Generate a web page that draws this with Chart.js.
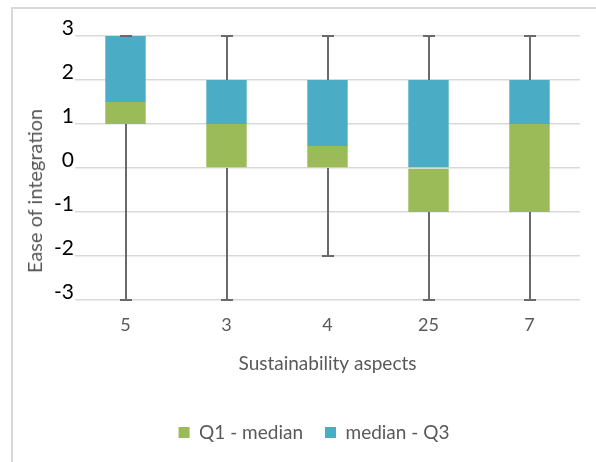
<!DOCTYPE html>
<html>
<head>
<meta charset="utf-8">
<script src="https://cdn.jsdelivr.net/npm/chart.js@4.4.1/dist/chart.umd.min.js"></script>
<style>
  html, body { margin: 0; padding: 0; background: #ffffff; }
  #wrap { position: relative; width: 596px; height: 462px; overflow: hidden; }
  #frame { position: absolute; left: 11px; top: 7px; width: 700px; height: 600px;
           border-left: 2px solid #d9d9d9; border-top: 2px solid #d9d9d9; box-sizing: border-box; }
  #ytitle { position: absolute; left: 34px; top: 191px; transform: translate(-50%, -50%) rotate(-90deg);
            font-family: Lato, sans-serif; font-size: 20px; color: #595959; white-space: nowrap; }
  canvas { position: absolute; left: 0; top: 0; }
</style>
</head>
<body>
<div id="wrap">
  <div id="frame"></div>
  <canvas id="c" width="596" height="462"></canvas>
  <div id="ytitle">Ease of integration</div>
</div>
<script>
// Sustainability aspect groups and their box-plot statistics
const categories = ['5', '3', '4', '25', '7'];
const minVals    = [-3, -3, -2, -3, -3];
const q1Vals     = [1, 0, 0, -1, -1];
const medianVals = [1.5, 1, 0.5, 0, 1];
const q3Vals     = [3, 2, 2, 2, 2];
const maxVals    = [3, 3, 3, 3, 3];
const yTicks     = [-3, -2, -1, 0, 1, 2, 3];

const lowerBox = categories.map((_, i) => [q1Vals[i], medianVals[i]]);
const upperBox = categories.map((_, i) => [medianVals[i], q3Vals[i]]);

// Whiskers from min to Q1 and from Q3 to max, with end caps
const whiskerPlugin = {
  id: 'whiskers',
  afterDatasetsDraw(chart) {
    const ctx = chart.ctx;
    const xs = chart.scales.x, ys = chart.scales.y;
    ctx.save();
    ctx.strokeStyle = '#6a6a6a';
    ctx.lineWidth = 2;
    categories.forEach((c, i) => {
      const x = Math.round(xs.getPixelForValue(i));
      const yMin = ys.getPixelForValue(minVals[i]);
      const yQ1 = ys.getPixelForValue(q1Vals[i]);
      const yQ3 = ys.getPixelForValue(q3Vals[i]);
      const yMax = ys.getPixelForValue(maxVals[i]);
      ctx.beginPath();
      ctx.moveTo(x, yMin); ctx.lineTo(x, yQ1);
      ctx.moveTo(x, yQ3); ctx.lineTo(x, yMax);
      ctx.moveTo(x - 6, yMin); ctx.lineTo(x + 6, yMin);
      ctx.moveTo(x - 6, yMax); ctx.lineTo(x + 6, yMax);
      ctx.stroke();
    });
    ctx.restore();
  }
};

const font = 'Lato, sans-serif';

new Chart(document.getElementById('c'), {
  type: 'bar',
  data: {
    labels: categories,
    datasets: [
      { label: 'Q1 - median', data: lowerBox, backgroundColor: '#9bbb59', grouped: false,
        categoryPercentage: 1, barPercentage: 0.4 },
      { label: 'median - Q3', data: upperBox, backgroundColor: '#4bacc6', grouped: false,
        categoryPercentage: 1, barPercentage: 0.4 }
    ]
  },
  options: {
    responsive: false,
    animation: false,
    layout: { padding: { left: 48, right: 16, top: 36, bottom: 10 } },
    plugins: {
      tooltip: { enabled: false },
      legend: {
        position: 'bottom',
        labels: {
          font: { family: font, size: 19 }, color: '#595959',
          boxWidth: 11, boxHeight: 11, padding: 22
        }
      }
    },
    scales: {
      x: {
        grid: { display: false },
        border: { display: false },
        ticks: { font: { family: font, size: 18 }, color: '#595959', padding: 6 },
        title: { display: true, text: 'Sustainability aspects',
                 font: { family: font, size: 19 }, color: '#595959', padding: { top: 0, bottom: 26 } },
        afterFit(scale) { scale.height = 101; }
      },
      y: {
        min: -3, max: 3,
        afterBuildTicks(scale) { scale.ticks = yTicks.map(v => ({ value: v })); },
        grid: { color: '#d9d9d9', lineWidth: 1.5, drawTicks: false },
        border: { display: false },
        ticks: { font: { family: font, size: 21 }, color: '#000000', padding: 1, labelOffset: -8 },
        afterFit(scale) { scale.width = 27; }
      }
    }
  },
  plugins: [whiskerPlugin]
});
</script>
</body>
</html>
